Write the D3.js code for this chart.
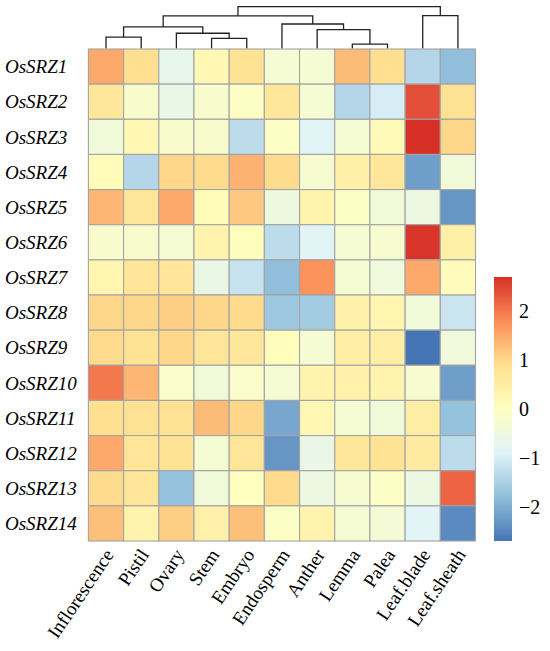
<!DOCTYPE html>
<html>
<head>
<meta charset="utf-8">
<script src="https://cdn.jsdelivr.net/npm/d3@7"></script>
<style>
  html, body { margin: 0; padding: 0; background: #ffffff; }
  svg { display: block; }
</style>
</head>
<body>
<svg id="chart" width="550" height="651"></svg>
<script>
// ---- Data ----
const tissues = ["Inflorescence","Pistil","Ovary","Stem","Embryo","Endosperm","Anther","Lemma","Palea","Leaf.blade","Leaf.sheath"];
const genes = ["OsSRZ1","OsSRZ2","OsSRZ3","OsSRZ4","OsSRZ5","OsSRZ6","OsSRZ7","OsSRZ8","OsSRZ9","OsSRZ10","OsSRZ11","OsSRZ12","OsSRZ13","OsSRZ14"];
const OsSRZ1  = [1.5, 0.9, -0.7, 0.2, 0.8, -0.3, -0.3, 1.3, 0.9, -1.4, -1.8];
const OsSRZ2  = [0.7, -0.2, -0.6, -0.2, -0.1, 0.7, -0.3, -1.4, -1.0, 2.4, 0.85];
const OsSRZ3  = [-0.4, 0.2, -0.2, -0.2, -1.3, -0.1, -0.85, -0.3, 0.15, 2.7, 1.0];
const OsSRZ4  = [0.1, -1.4, 1.0, 0.95, 1.4, 0.95, -0.25, 0.45, 0.7, -2.2, -0.4];
const OsSRZ5  = [1.35, 0.7, 1.5, 0.1, 1.15, -0.5, 0.35, -0.1, -0.4, -0.55, -2.3];
const OsSRZ6  = [-0.2, -0.2, -0.3, 0.35, 0.05, -1.3, -0.85, -0.3, -0.25, 2.65, 0.45];
const OsSRZ7  = [0.3, 0.75, 0.75, -0.6, -1.2, -1.8, 1.75, -0.3, -0.45, 1.5, 0.08];
const OsSRZ8  = [1.0, 1.0, 1.1, 1.0, 0.95, -1.65, -1.6, 0.4, 0.3, -0.4, -1.15];
const OsSRZ9  = [0.95, 0.8, 1.0, 0.75, 0.7, 0.05, -0.3, 0.5, 0.5, -2.7, -0.45];
const OsSRZ10 = [2.0, 1.35, -0.15, -0.4, -0.15, -0.3, 0.35, 0.4, 0.35, -0.25, -2.2];
const OsSRZ11 = [0.9, 0.85, 0.85, 1.3, 1.0, -2.1, 0.2, -0.3, -0.4, 0.5, -1.75];
const OsSRZ12 = [1.5, 0.75, 0.8, -0.3, 0.75, -2.3, -0.65, 0.7, 0.8, 0.6, -1.3];
const OsSRZ13 = [0.95, 0.75, -1.75, -0.4, 0.0, 0.95, -0.55, -0.25, -0.1, -0.55, 2.2];
const OsSRZ14 = [1.25, 0.35, 1.1, 0.4, 1.25, -0.1, 0.35, -0.3, -0.35, -0.85, -2.45];
const values = [OsSRZ1,OsSRZ2,OsSRZ3,OsSRZ4,OsSRZ5,OsSRZ6,OsSRZ7,OsSRZ8,OsSRZ9,OsSRZ10,OsSRZ11,OsSRZ12,OsSRZ13,OsSRZ14];
const paletteColors = ["#4575B4","#91BFDB","#E0F3F8","#FFFFBF","#FEE090","#FC8D59","#D73027"];
const legendTicks = [-2, -1, 0, 1, 2];
// column dendrogram merges: [left node, right node, height]; leaves are 0..10, merge k is node 11+k
const merges = [
  [0, 1, 11.3],    // 11
  [3, 4, 10.0],    // 12
  [2, 12, 15.3],   // 13
  [11, 13, 21.7],  // 14
  [7, 8, 4.3],     // 15
  [6, 15, 19.0],   // 16
  [5, 16, 24.7],   // 17
  [14, 17, 33.0],  // 18
  [9, 10, 33.3],   // 19
  [18, 19, 42.3]   // 20
];

// ---- Layout ----
const FONT = "'Liberation Serif', 'Times New Roman', Times, serif";
const svg = d3.select("#chart");
const gridLeft = 88.4, gridRight = 475.5, gridTop = 49, gridBottom = 541;

const x = d3.scaleBand().domain(tissues).range([gridLeft, gridRight]).padding(0);
const y = d3.scaleBand().domain(genes).range([gridTop, gridBottom]).padding(0);

const flat = values.flat();
const ext = d3.extent(flat);
const color = d3.scaleLinear()
  .domain(d3.range(paletteColors.length).map(i => ext[0] + (ext[1] - ext[0]) * i / (paletteColors.length - 1)))
  .range(paletteColors)
  .interpolate(d3.interpolateRgb);

// ---- Cells ----
const cells = [];
genes.forEach((g, i) => tissues.forEach((t, j) => cells.push({g, t, v: values[i][j]})));
svg.append("g").selectAll("rect").data(cells).join("rect")
  .attr("x", d => x(d.t))
  .attr("y", d => y(d.g))
  .attr("width", x.bandwidth())
  .attr("height", y.bandwidth())
  .attr("fill", d => color(d.v))
  .attr("stroke", "#a3a3a3")
  .attr("stroke-width", 1.1);

// ---- Row labels ----
svg.append("g").selectAll("text").data(genes).join("text")
  .attr("x", 5)
  .attr("y", d => y(d) + y.bandwidth() / 2)
  .attr("dy", "0.35em")
  .attr("font-family", FONT)
  .attr("font-size", 19)
  .attr("font-style", "italic")
  .attr("fill", "#000")
  .text(d => d);

// ---- Column labels ----
svg.append("g").selectAll("text").data(tissues).join("text")
  .attr("transform", d => `translate(${x(d) + x.bandwidth() / 2 + 3},${gridBottom + 10}) rotate(-56)`)
  .attr("text-anchor", "end")
  .attr("dy", "0.35em")
  .attr("font-family", FONT)
  .attr("font-size", 19)
  .attr("fill", "#000")
  .text(d => d);

// ---- Dendrogram ----
const h = d3.scaleLinear().domain([0, 42.3]).range([48.3, 6.7]);
const nodes = tissues.map(t => ({x: x(t) + x.bandwidth() / 2, hgt: 0}));
const dg = svg.append("g").attr("fill", "none").attr("stroke", "#222").attr("stroke-width", 1.3);
merges.forEach(([a, b, ht]) => {
  const A = nodes[a], B = nodes[b];
  dg.append("path").attr("d",
    `M${A.x},${h(A.hgt)}V${h(ht)}H${B.x}V${h(B.hgt)}`);
  nodes.push({x: (A.x + B.x) / 2, hgt: ht});
});

// ---- Legend ----
const lx = 494, lw = 18;
const ly = d3.scaleLinear().domain(ext).range([541, 277]);
const defs = svg.append("defs");
const grad = defs.append("linearGradient").attr("id", "lg").attr("x1", 0).attr("y1", 1).attr("x2", 0).attr("y2", 0);
paletteColors.forEach((c, i) => grad.append("stop").attr("offset", i / (paletteColors.length - 1)).attr("stop-color", c));
svg.append("rect").attr("x", lx).attr("y", ly(ext[1])).attr("width", lw).attr("height", ly(ext[0]) - ly(ext[1])).attr("fill", "url(#lg)");
svg.append("g").selectAll("text").data(legendTicks).join("text")
  .attr("x", lx + lw + 7)
  .attr("y", d => ly(d))
  .attr("dy", "0.35em")
  .attr("font-family", FONT)
  .attr("font-size", 20)
  .attr("fill", "#000")
  .text(d => d < 0 ? "\u2212" + Math.abs(d) : String(d));
</script>
</body>
</html>
